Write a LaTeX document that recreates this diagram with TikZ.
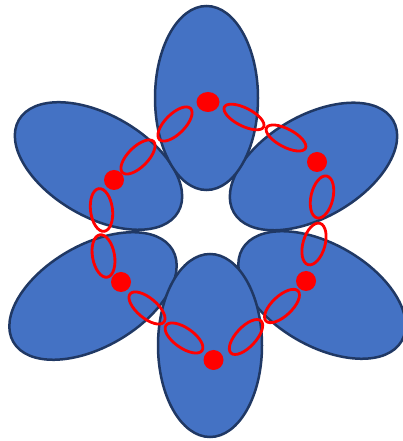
\documentclass[tikz,border=0pt]{standalone}
\usepackage{xcolor}
\usepackage{tikz}

\definecolor{petalblue}{RGB}{68,114,196}
\definecolor{petalline}{RGB}{32,56,100}
\definecolor{beadred}{RGB}{255,0,0}

\begin{document}
\begin{tikzpicture}[x=1pt,y=1pt,
    petal/.style={fill=petalblue,draw=petalline,line width=2.5pt},
    link/.style={draw=beadred,line width=2.8pt},
    bead/.style={fill=beadred}
]
\useasboundingbox (0,0) rectangle (403,441);

% side petals
\draw[petal,rotate around={-30:(98.5,275)}] (98.5,275) ellipse [x radius=92pt,y radius=51pt];
\draw[petal,rotate around={30:(313.5,274.5)}] (313.5,274.5) ellipse [x radius=92pt,y radius=51pt];
\draw[petal,rotate around={30:(93,145)}] (93,145) ellipse [x radius=92pt,y radius=51pt];
\draw[petal,rotate around={-30:(322,146)}] (322,146) ellipse [x radius=92pt,y radius=51pt];
% top and bottom petals
\draw[petal] (206.5,343) ellipse [x radius=51.5pt,y radius=92pt];
\draw[petal] (210,95.5) ellipse [x radius=52pt,y radius=91.5pt];

% ring of links
\draw[link,rotate around={45:(175,317)}] (175,317) ellipse [x radius=22pt,y radius=10pt];
\draw[link,rotate around={45:(138,284)}] (138,284) ellipse [x radius=22pt,y radius=10pt];
\draw[link,rotate around={97:(101.5,231)}] (101.5,231) ellipse [x radius=21.5pt,y radius=11pt];
\draw[link,rotate around={100:(103.5,185)}] (103.5,185) ellipse [x radius=21.5pt,y radius=11pt];
\draw[link,rotate around={-40:(147,133)}] (147,133) ellipse [x radius=22pt,y radius=10pt];
\draw[link,rotate around={-35:(184,103)}] (184,103) ellipse [x radius=22pt,y radius=10pt];
\draw[link,rotate around={47:(246,104)}] (246,104) ellipse [x radius=22pt,y radius=10pt];
\draw[link,rotate around={43:(282,135)}] (282,135) ellipse [x radius=22pt,y radius=10pt];
\draw[link,rotate around={74:(314,197)}] (314,197) ellipse [x radius=21.5pt,y radius=11pt];
\draw[link,rotate around={77:(322,244)}] (322,244) ellipse [x radius=21.5pt,y radius=11pt];
\draw[link,rotate around={-28:(286,303)}] (286,303) ellipse [x radius=22pt,y radius=9pt];
\draw[link,rotate around={-27:(244,324)}] (244,324) ellipse [x radius=22pt,y radius=9pt];

% beads
\fill[bead] (208,339) ellipse [x radius=11.5pt,y radius=10pt];
\fill[bead] (317,279) circle [radius=10pt];
\fill[bead] (306,160) circle [radius=10pt];
\fill[bead] (213.5,81) circle [radius=10pt];
\fill[bead] (121,159) circle [radius=10pt];
\fill[bead] (114,261) circle [radius=10pt];
\end{tikzpicture}
\end{document}
